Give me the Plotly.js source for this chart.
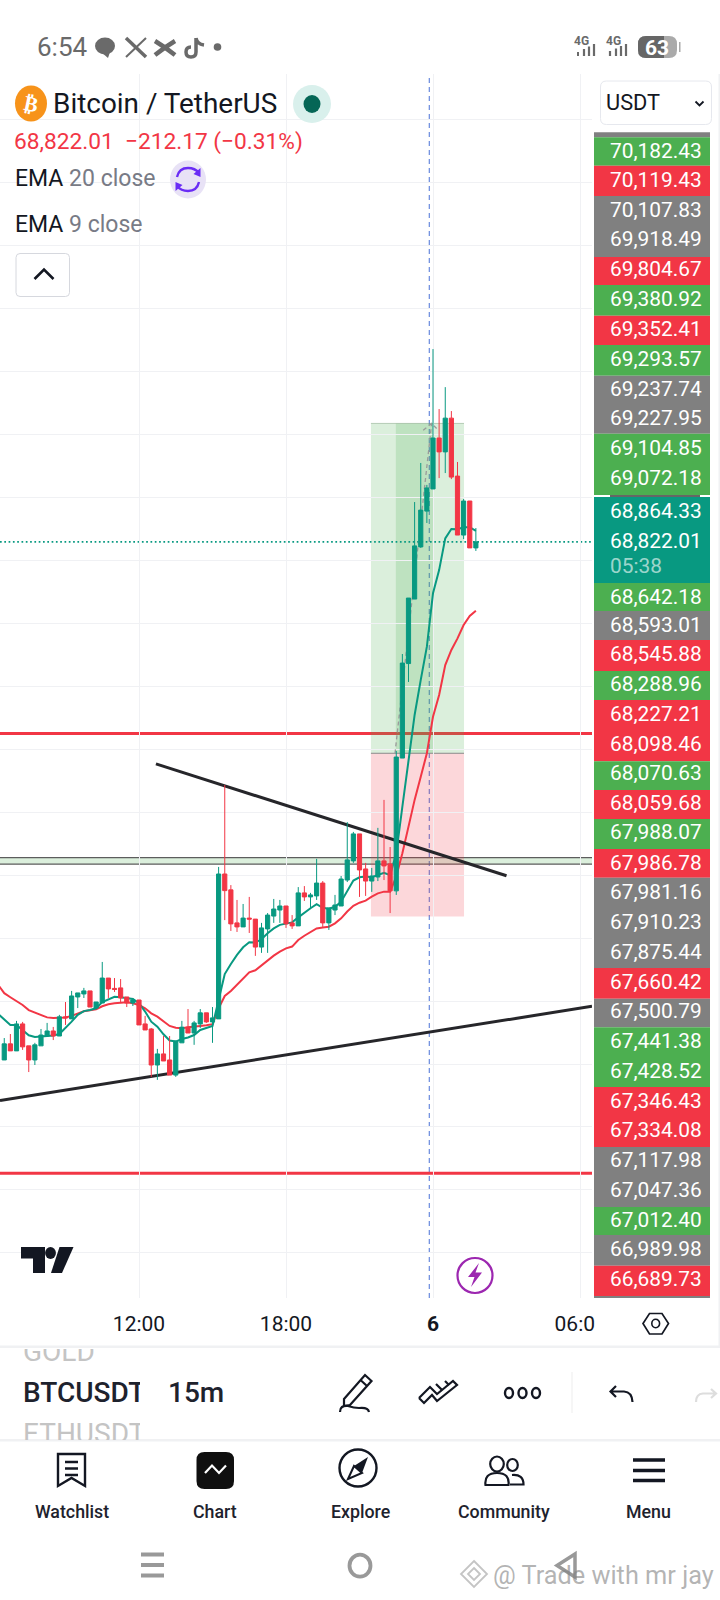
<!DOCTYPE html>
<html>
<head>
<meta charset="utf-8">
<script src="https://cdn.plot.ly/plotly-3.0.1.min.js"></script>
<style>html,body{margin:0;padding:0;background:#fff}#chart{width:720px;height:1600px}</style>
</head>
<body>
<div id="chart"></div>
<script>
// ---------- DATA ----------
const day5Times = ["06:15","06:30","06:45","07:00","07:15","07:30","07:45","08:00","08:15","08:30","08:45","09:00","09:15","09:30","09:45","10:00","10:15","10:30","10:45","11:00","11:15","11:30","11:45","12:00","12:15","12:30","12:45","13:00","13:15","13:30","13:45","14:00","14:15","14:30","14:45","15:00","15:15","15:30","15:45","16:00","16:15","16:30","16:45","17:00","17:15","17:30","17:45","18:00","18:15","18:30","18:45","19:00","19:15","19:30","19:45","20:00","20:15","20:30","20:45","21:00","21:15","21:30","21:45","22:00","22:15","22:30","22:45","23:00","23:15","23:30","23:45"];
const day6Times = ["00:00","00:15","00:30","00:45","01:00","01:15","01:30","01:45"];
const times = day5Times.map(t => "2024-11-05 " + t).concat(day6Times.map(t => "2024-11-06 " + t));
const candleTimes = times.slice(1);

const open = [66766,66830,66802,66909,66822,66766,66822,66861,66881,66861,66937,66929,67016,67028,67040,66972,66992,67091,67050,67052,67016,66992,67004,66909,66889,66746,66790,66766,66706,66834,66896,66873,66909,66953,66917,66929,67504,67441,67310,67294,67329,67325,67214,67286,67337,67361,67377,67310,67298,67429,67413,67417,67468,67310,67361,67377,67480,67556,67663,67524,67476,67492,67556,67544,67437,67964,68339,68595,68802,68944,69032,69234,69179,69313,69083,68849,68984,68798];
const high = [66853,66869,66921,66917,66822,66834,66889,66913,66897,66945,66996,67040,67032,67052,67040,66996,67155,67091,67091,67087,67016,67012,67004,66941,66893,66810,66861,66861,66841,66921,66968,66921,66968,66953,66976,67532,67857,67460,67401,67385,67413,67325,67310,67349,67405,67401,67377,67341,67452,67456,67429,67564,67476,67369,67421,67496,67710,67671,67663,67548,67528,67687,67798,67611,67992,68377,68599,68980,69135,69048,69587,69349,69436,69341,69139,68992,68984,68877];
const low = [66766,66802,66802,66806,66718,66746,66822,66861,66845,66861,66905,66929,66972,67012,66976,66968,66992,67012,67036,66996,66976,66980,66905,66885,66699,66687,66762,66706,66699,66834,66873,66826,66893,66913,66834,66929,67321,67278,67274,67294,67270,67179,67191,67191,67310,67310,67290,67286,67298,67397,67365,67401,67294,67282,67341,67377,67472,67548,67413,67417,67433,67476,67480,67349,67421,67964,68266,68595,68798,68897,69032,69075,69095,69071,68849,68833,68798,68786];
const close = [66830,66802,66909,66818,66766,66826,66865,66881,66861,66937,66933,67020,67032,67040,66976,66996,67091,67048,67046,67012,66992,67004,66905,66885,66746,66790,66762,66706,66841,66896,66873,66913,66953,66917,66933,67504,67438,67306,67294,67329,67325,67214,67290,67341,67365,67377,67306,67298,67429,67413,67421,67468,67310,67369,67381,67484,67560,67663,67520,67476,67496,67556,67536,67437,67968,68341,68599,68806,68948,69036,69234,69179,69313,69079,68849,68984,68798,68822];
const ema9 = [66949,66927,66905,66905,66885,66864,66857,66859,66863,66863,66869,66892,66918,66945,66960,66964,66971,66996,67008,67017,67015,67012,67008,66991,66958,66918,66898,66868,66843,66839,66849,66855,66865,66885,66892,66901,67004,67107,67147,67183,67213,67233,67232,67245,67269,67288,67302,67307,67312,67332,67351,67368,67384,67370,67366,67374,67394,67438,67478,67491,67494,67491,67500,67509,67499,67586,67771,67963,68135,68274,68406,68618,68710,68836,68873,68872,68880,68880,68866];
const ema20 = [67064,67031,67015,67001,66984,66964,66954,66943,66935,66933,66934,66935,66941,66949,66959,66963,66967,66979,66987,66991,66994,66995,66991,66984,66971,66951,66938,66918,66901,66894,66892,66896,66900,66901,66904,66908,66971,67020,67040,67064,67090,67114,67122,67142,67160,67180,67196,67209,67216,67242,67259,67275,67288,67292,67295,67308,67328,67355,67378,67390,67398,67414,67427,67434,67434,67494,67586,67692,67798,67890,67983,68128,68214,68333,68393,68439,68492,68528,68549];

const lastPrice = 68822.01;
const redLevels = [68062, 66316];
const zonePrices = [67569, 67543];
const longBoxTimes = ["2024-11-05 21:28", "2024-11-06 01:16"];
const longInnerTimes = ["2024-11-05 22:29", "2024-11-06 00:01:30"];
const longPrices = [69292, 67983, 67335];
const crosshairTime = "2024-11-05 23:50:50";
const fallingLineTimes = ["2024-11-05 12:41:30", "2024-11-06 03:00"];
const fallingLinePrices = [67941, 67497];
const risingLineTimes = ["2024-11-05 06:19:36", "2024-11-06 06:29:24"];
const risingLinePrices = [66605, 66979];
const pathTimes = ["2024-11-05 22:27", "2024-11-05 23:56:42", null, "2024-11-05 23:36", "2024-11-05 23:56:42", "2024-11-06 00:13"];
const pathPrices = [67983, 69292, null, 69265, 69292, 69265];

const xRange = ["2024-11-05 06:19:36", "2024-11-06 06:29:24"];
const yRange = [65821.4, 70678.6];
const xTickVals = ["2024-11-05 12:00", "2024-11-05 18:00", "2024-11-06 00:00", "2024-11-06 06:00"];
const xTickText = ["12:00", "18:00", "<b>6</b>", "06:0\u00a0\u00a0"];

const tagLabels = ["70,182.43","70,119.43","70,107.83","69,918.49","69,804.67","69,380.92","69,352.41","69,293.57","69,237.74","69,227.95","69,104.85","69,072.18","68,864.33","68,822.01","05:38","68,642.18","68,593.01","68,545.88","68,288.96","68,227.21","68,098.46","68,070.63","68,059.68","67,988.07","67,986.78","67,981.16","67,910.23","67,875.44","67,660.42","67,500.79","67,441.38","67,428.52","67,346.43","67,334.08","67,117.98","67,047.36","67,012.40","66,989.98","66,689.73"];

// ---------- LAYOUT CONSTANTS ----------
const GREEN = "#089981", RED = "#F23645", TAGG = "#4CAF50", GRAY = "#808080", GRID = "#f0f1f4";
const tagCenters = [150.7,180,210,239.3,269.3,299,329,358.7,388.7,417.7,447.7,477.7,510.7,541,565.7,597,625,654,683.7,713.7,743.7,773,802.7,832.3,862.7,892,921.7,951.7,981.7,1011,1040.7,1070.7,1100.7,1130,1159.7,1189.7,1220,1249,1279.3];
const bandEdges = [132.3,137.3,165.7,196,257,285,315.7,345,375.7,433.7,495,497,583,611,640,671,700,761.3,790,819,849,877.7,968,998.7,1027.3,1087,1147,1207,1235,1265.7,1296,1298];
const bandColors = [GRAY,TAGG,RED,GRAY,RED,TAGG,RED,TAGG,GRAY,TAGG,"#ffffff",GREEN,TAGG,GRAY,RED,TAGG,RED,TAGG,RED,TAGG,RED,GRAY,RED,GRAY,TAGG,RED,GRAY,TAGG,GRAY,RED,GRAY];

const shapes = [];
const annos = [];
const F = "Roboto, sans-serif";
function px(o){ return Object.assign({xref:"x3", yref:"y3", layer:"above"}, o); }
function stroke(path, color, width, fill){ shapes.push(px({type:"path", path, line:{color, width}, fillcolor: fill || "rgba(0,0,0,0)"})); }
function fillPath(path, color){ shapes.push(px({type:"path", path, line:{width:0}, fillcolor: color})); }
function rect(x0,y0,x1,y1,fill,lineColor,lw){ shapes.push(px({type:"rect", x0,y0,x1,y1, fillcolor:fill, line:{color:lineColor||"rgba(0,0,0,0)", width: lineColor ? (lw||1) : 0}})); }
function rrect(x0,y0,x1,y1,r,fill,lineColor,lw){
  const p = `M${x0+r} ${y0} L${x1-r} ${y0} Q${x1} ${y0} ${x1} ${y0+r} L${x1} ${y1-r} Q${x1} ${y1} ${x1-r} ${y1} L${x0+r} ${y1} Q${x0} ${y1} ${x0} ${y1-r} L${x0} ${y0+r} Q${x0} ${y0} ${x0+r} ${y0} Z`;
  shapes.push(px({type:"path", path:p, fillcolor:fill, line:{color:lineColor||"rgba(0,0,0,0)", width: lineColor ? (lw||1) : 0}}));
}
function circ(cx,cy,rx,ry,fill,lineColor,lw){ shapes.push(px({type:"circle", x0:cx-rx, x1:cx+rx, y0:cy-ry, y1:cy+ry, fillcolor:fill, line:{color:lineColor||"rgba(0,0,0,0)", width: lineColor ? (lw||1) : 0}})); }
function txt(text,x,y,size,color,opts){
  const o = opts||{};
  annos.push(Object.assign({xref:"x3", yref:"y3", x, y, text, showarrow:false, xanchor:o.anchor||"left", yanchor:"middle", borderpad:0,
    font:{family:o.family||F, size, color, weight:o.weight||400}}, o.extra||{}));
}

// ---------- chart shapes on the price / time axes ----------
redLevels.forEach(p => shapes.push({type:"line", xref:"x", yref:"y", layer:"below", x0:xRange[0], x1:xRange[1], y0:p, y1:p, line:{color:RED, width:3}}));
shapes.push({type:"rect", xref:"x", yref:"y", layer:"below", x0:xRange[0], x1:xRange[1], y0:zonePrices[0], y1:zonePrices[1], fillcolor:"rgba(76,175,80,0.2)", line:{width:0}});
zonePrices.forEach(p => shapes.push({type:"line", xref:"x", yref:"y", layer:"below", x0:xRange[0], x1:xRange[1], y0:p, y1:p, line:{color:"#5d5d5d", width:1.2}}));
shapes.push({type:"rect", xref:"x", yref:"y", layer:"below", x0:longBoxTimes[0], x1:longBoxTimes[1], y0:longPrices[0], y1:longPrices[1], fillcolor:"rgba(76,175,80,0.2)", line:{width:0}});
shapes.push({type:"rect", xref:"x", yref:"y", layer:"below", x0:longBoxTimes[0], x1:longBoxTimes[1], y0:longPrices[1], y1:longPrices[2], fillcolor:"rgba(242,54,69,0.2)", line:{width:0}});
shapes.push({type:"rect", xref:"x", yref:"y", layer:"below", x0:longInnerTimes[0], x1:longInnerTimes[1], y0:longPrices[0], y1:longPrices[1], fillcolor:"rgba(76,175,80,0.2)", line:{width:0}});
shapes.push({type:"line", xref:"x", yref:"y", layer:"below", x0:longBoxTimes[0], x1:longBoxTimes[1], y0:longPrices[1], y1:longPrices[1], line:{color:"#8a8a8a", width:1}});
shapes.push({type:"line", xref:"x", yref:"y", layer:"below", x0:longBoxTimes[0], x1:longBoxTimes[1], y0:longPrices[0], y1:longPrices[0], line:{color:"rgba(110,150,110,0.45)", width:1}});
shapes.push({type:"line", xref:"x", yref:"paper", layer:"below", x0:crosshairTime, x1:crosshairTime, y0:0.18875, y1:0.95375, line:{color:"#4a72d6", width:1, dash:"5px,4px"}});
shapes.push({type:"line", xref:"x", yref:"y", layer:"below", x0:xRange[0], x1:xRange[1], y0:lastPrice, y1:lastPrice, line:{color:GREEN, width:1.7, dash:"1.7px,2.6px"}});

// ---------- right price tags ----------
bandColors.forEach((c,i) => rect(594, bandEdges[i], 710, bandEdges[i+1], c));
stroke("M610 496 L700 496", "#333333", 1.4);
tagLabels.forEach((t,i) => txt(t, 608.5, tagCenters[i], 20.9, t === "05:38" ? "rgba(255,255,255,0.62)" : "#ffffff"));

// ---------- status bar ----------
const ICON = "#6a6a6a";
txt("6:54", 36, 47, 26, ICON);
circ(105,46,10,8.5,ICON); fillPath("M101 52 L108 58 L110 52 Z", ICON);
stroke("M126 38 L146 57", ICON, 3.5); stroke("M146 38 L126 57", ICON, 2);
stroke("M155 41 Q165 47 175 55", ICON, 4.5); stroke("M175 41 Q165 47 155 55", ICON, 4.5);
stroke("M196 38 L196 52 Q196 57 191 57 Q186 57 186 52 Q186 47 191 47 M196 38 Q197 44 204 45", ICON, 3.5);
circ(217.5,47,3.8,3.8,ICON);
txt("4G",581,40.5,12,ICON,{anchor:"center",weight:700});
txt("4G",613,40.5,12,ICON,{anchor:"center",weight:700});
stroke("M584 56 L584 49 M589 56 L589 46.5 M594 56 L594 44", ICON, 2.2);
stroke("M578 56 L578 52", ICON, 2);
stroke("M610 56 L610 51 M616 56 L616 48.5 M621 56 L621 46 M626 56 L626 44", ICON, 2.2);
rrect(638,36,677,58,8,"#aaaaaa");
rrect(638,36,664,58,8,"#666666");
rect(656,36,664,58,"#666666");
rect(679,42,680.5,52,"#aaaaaa");
txt("63",657,48,21,"#ffffff",{anchor:"center",weight:700});

// ---------- chart header ----------
circ(31,103.5,16,18,"#F7931A");
txt("₿",31,104,21,"#ffffff",{anchor:"center",family:"DejaVu Sans",weight:700,extra:{textangle:12}});
txt("Bitcoin / TetherUS",52,103,27.9,"#131722");
circ(312,104,19,19,"#d9f0ec");
circ(312,104,8.5,9,"#056656");
rrect(600.5,81,711.5,124.5,6,"#ffffff","#e6e8ee",1);
txt("USDT",605,102,21.8,"#131722");
stroke("M695.5 101.5 L699.5 105.5 L703.5 101.5", "#131722", 1.8);
txt("68,822.01\u00a0\u00a0−212.17 (−0.31%)",13,141.5,22.7,RED);
txt('EMA <span style="color:#787b86">20 close</span>',14,178,23,"#131722");
txt('EMA <span style="color:#787b86">9 close</span>',14,224,23,"#131722");
circ(188,179.5,18,19,"#e8e2f6");
stroke("M177 177 Q179 168 188 168 Q195 168 199 173", "#6a2cf5", 2.4);
stroke("M199 182 Q197 191 188 191 Q181 191 177 186", "#6a2cf5", 2.4);
fillPath("M200.5 168 L200.5 177 L193.5 174 Z", "#6a2cf5");
fillPath("M175.5 191 L175.5 182 L182.5 185 Z", "#6a2cf5");
rrect(16,253.5,69.5,296.5,4,"#ffffff","#d6d8de",1);
stroke("M34.5 279 L44 269.5 L53.5 279", "#131722", 2.6);

// ---------- logo + lightning ----------
fillPath("M21 1247 L45 1247 L45 1273 L33 1273 L33 1258.5 L21 1258.5 Z", "#131722");
circ(50.5,1253,5.4,6,"#131722");
fillPath("M59.5 1247 L73.5 1247 L62 1273 L51 1273 Z", "#131722");
circ(475,1275.5,17.5,17.5,"rgba(0,0,0,0)","#9c27b0",2.2);
fillPath("M479 1263 L468 1277 L474.5 1277 L471 1287 L482 1272.5 L475.5 1272.5 Z", "#9c27b0");

// ---------- axis settings ----------
stroke("M649.5 1313.5 L662 1313.5 L668.5 1323.5 L662 1334 L649.5 1334 L643 1323.5 Z", "#131722", 1.7);
circ(655.7,1323.5,3.9,4.2,"rgba(0,0,0,0)","#131722",1.6);

// ---------- separators ----------
rect(0,1345.5,720,1348,"#f0f1f3");
rect(0,1439,720,1441.5,"#f0f1f3");
rect(718.5,74,720,1346,"#f0f1f3");
rect(571.5,1372,572.5,1413,"#eeeeee");

// ---------- toolbar ----------
annos.push({xref:"x3", yref:"y3", x:22, y:1347.5, xanchor:"left", yanchor:"top", showarrow:false, borderpad:0, text:"GOLD", height:19, valign:"bottom", align:"left", font:{family:F,size:28,color:"#c4c4c4"}});
annos.push({xref:"x3", yref:"y3", x:22, y:1392, xanchor:"left", yanchor:"middle", showarrow:false, borderpad:0, text:"BTCUSDT", width:117, align:"left", font:{family:F,size:28,color:"#1e222d",weight:500}});
annos.push({xref:"x3", yref:"y3", x:22, y:1416, xanchor:"left", yanchor:"top", showarrow:false, borderpad:0, text:"ETHUSDT", width:117, height:23, valign:"top", align:"left", font:{family:F,size:28,color:"#c4c4c4"}});
txt("15m",167,1392,28,"#1e222d",{weight:500});
stroke("M344 1399 L365 1375 L371.5 1381 L350 1405 L344 1406 Z M360.5 1380 L367 1386", "#131722", 2.2);
stroke("M340 1412 Q340 1405 348 1406 Q354 1408 359 1408 Q368 1407 369 1412", "#131722", 2.2);
stroke("M419 1398 L430 1387 L437 1394 L442 1390 L436 1384 M419 1398 L424 1403 L432 1395 L437 1401 L457 1385 L453 1381 L442 1390", "#131722", 2.2);
stroke("M445 1381 L449 1385", "#131722", 2.2);
circ(509,1393,4,5,"rgba(0,0,0,0)","#131722",2.4);
circ(522.5,1393,4,5,"rgba(0,0,0,0)","#131722",2.4);
circ(536,1393,4,5,"rgba(0,0,0,0)","#131722",2.4);
stroke("M616 1386 L610.5 1391.5 L616 1397 M610.5 1391.5 L624 1391.5 Q632 1392 632.5 1402", "#131722", 2.2);
stroke("M711 1389 L716 1393.5 L711 1398 M716 1393.5 L703 1393.5 Q696 1394 696 1402", "#dddddd", 2.2);

// ---------- bottom navigation ----------
const NAV = "#131722";
stroke("M58 1454 L85 1454 L85 1486 L71.5 1478 L58 1486 Z", NAV, 2.4);
stroke("M65 1462 L78 1462 M65 1468.5 L78 1468.5 M65 1475 L78 1475", NAV, 2.4);
rrect(196.5,1452,234,1489,8,"#0f0f0f");
stroke("M205 1473 L212 1465.5 L219 1473 L226 1465.5", "#ffffff", 2.2);
circ(358,1468,18.5,18.5,"rgba(0,0,0,0)",NAV,2.4);
fillPath("M368 1457 L354 1466 L362 1473 Z", NAV);
stroke("M348 1479 L354 1466 L362 1473 Z", NAV, 2);
circ(497,1464,6.8,7.5,"rgba(0,0,0,0)",NAV,2.2);
circ(512.5,1465,5.3,6,"rgba(0,0,0,0)",NAV,2.2);
stroke("M485.5 1485 Q484 1473 497 1473 Q510 1473 508.5 1485 Z", NAV, 2.2);
stroke("M512 1475 Q523.5 1474 523.5 1484.5 L510 1484.5", NAV, 2.2);
stroke("M633 1460 L665 1460 M633 1470.5 L665 1470.5 M633 1480.5 L665 1480.5", "#131722", 3.4);
[["Watchlist",72],["Chart",215],["Explore",360],["Community",504],["Menu",648]].forEach(n => txt(n[0],n[1],1511.5,17.8,"#1e222d",{anchor:"center",weight:500}));

// ---------- android nav + watermark ----------
stroke("M141 1554.5 L164 1554.5 M141 1565 L164 1565 M141 1575.5 L164 1575.5", "#999999", 4);
circ(360,1565.7,10.5,11,"rgba(0,0,0,0)","#999999",3.8);
stroke("M575 1554 L557 1565.5 L575 1577 Z", "#999999", 3.5);
stroke("M474 1561 L487 1574 L474 1587 L461 1574 Z M474 1568 L480 1574 L474 1580 L468 1574 Z", "rgba(165,165,165,0.65)", 1.8);
txt("@ Trade with mr jay",492,1575,25.3,"rgba(130,130,130,0.6)");

// ---------- traces ----------
const lineBase = {type:"scatter", mode:"lines", xaxis:"x", yaxis:"y", hoverinfo:"skip", showlegend:false};
const traces = [
  Object.assign({}, lineBase, {x:times, y:ema20, line:{color:RED, width:2}, name:"EMA 20"}),
  Object.assign({}, lineBase, {x:times, y:ema9, line:{color:GREEN, width:2}, name:"EMA 9"}),
  Object.assign({}, lineBase, {x:pathTimes, y:pathPrices, line:{color:"#9a9a9a", width:1.3, dash:"4px,3px"}, name:"path"}),
  Object.assign({}, lineBase, {x:fallingLineTimes, y:fallingLinePrices, line:{color:"#26262a", width:3}, name:"trend A"}),
  Object.assign({}, lineBase, {x:risingLineTimes, y:risingLinePrices, line:{color:"#26262a", width:3}, name:"trend B"}),
  {type:"candlestick", xaxis:"x2", yaxis:"y2", x:candleTimes, open, high, low, close, hoverinfo:"skip", showlegend:false, whiskerwidth:0,
   increasing:{line:{color:GREEN, width:1}, fillcolor:GREEN},
   decreasing:{line:{color:RED, width:1}, fillcolor:RED}}
];

const layout = {
  width:720, height:1600, margin:{l:0,r:0,t:0,b:0,pad:0}, showlegend:false, hovermode:false, dragmode:false,
  paper_bgcolor:"#ffffff", plot_bgcolor:"rgba(0,0,0,0)", boxgap:0.32, boxgroupgap:0,
  font:{family:F},
  xaxis:{type:"date", domain:[0,592/720], anchor:"y", range:xRange, tickmode:"array", tickvals:xTickVals, ticktext:xTickText,
    showgrid:true, gridcolor:GRID, gridwidth:1, zeroline:false, showline:false, ticks:"", ticklabelstandoff:11,
    tickfont:{family:F,size:21,color:"#131722"}, fixedrange:true, rangeslider:{visible:false}},
  yaxis:{domain:[1-1298/1600,1-74/1600], anchor:"x", range:yRange, tickmode:"linear", tick0:66000, dtick:250, showgrid:true, gridcolor:GRID, gridwidth:1,
    zeroline:false, showline:false, showticklabels:false, ticks:"", fixedrange:true},
  xaxis2:{type:"date", overlaying:"x", anchor:"y2", range:xRange, visible:false, fixedrange:true, rangeslider:{visible:false}},
  yaxis2:{overlaying:"y", anchor:"x2", range:yRange, visible:false, fixedrange:true},
  xaxis3:{domain:[0,1], anchor:"y3", range:[0,720], visible:false, fixedrange:true},
  yaxis3:{domain:[0,1], anchor:"x3", range:[1600,0], visible:false, fixedrange:true},
  shapes, annotations:annos
};
Plotly.newPlot("chart", traces, layout, {displayModeBar:false, staticPlot:true, responsive:false});
</script>
</body>
</html>
